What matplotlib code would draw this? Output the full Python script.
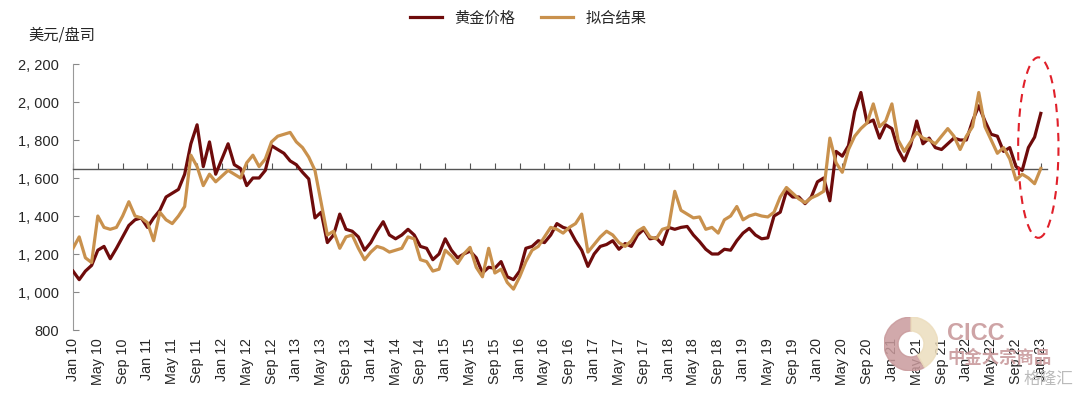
import numpy as np
import matplotlib
matplotlib.use('Agg')
import matplotlib.pyplot as plt
from matplotlib.patches import Ellipse, Wedge

plt.rcParams['font.family'] = ['Liberation Sans', 'Noto Sans CJK SC', 'DejaVu Sans']
CJK = ['Noto Sans CJK SC', 'DejaVu Sans']

# monthly readings, Jan 2010 .. Jan 2023 (USD/oz)
gold = [
    1110, 1065, 1110, 1140, 1220, 1240, 1175, 1230, 1290, 1350, 1380, 1390,   # 2010
    1340, 1390, 1430, 1500, 1520, 1540, 1620, 1780, 1880, 1660, 1790, 1620,   # 2011
    1700, 1780, 1670, 1650, 1560, 1600, 1600, 1640, 1770, 1750, 1730, 1690,   # 2012
    1670, 1630, 1595, 1390, 1420, 1260, 1300, 1410, 1330, 1320, 1290, 1220,   # 2013
    1260, 1320, 1370, 1300, 1280, 1300, 1330, 1300, 1240, 1230, 1170, 1200,   # 2014
    1280, 1220, 1180, 1200, 1215, 1180, 1100, 1130, 1125, 1160, 1080, 1065,   # 2015
    1110, 1230, 1240, 1270, 1260, 1300, 1360, 1340, 1330, 1270, 1220, 1135,   # 2016
    1200, 1240, 1250, 1270, 1225, 1255, 1240, 1300, 1330, 1280, 1285, 1250,   # 2017
    1340, 1330, 1340, 1345, 1300, 1265, 1225, 1200, 1200, 1225, 1220, 1270,   # 2018
    1310, 1335, 1300, 1280, 1285, 1400, 1420, 1530, 1500, 1500, 1465, 1500,   # 2019
    1580, 1600, 1480, 1740, 1715, 1770, 1950, 2050, 1890, 1905, 1810, 1880,   # 2020
    1860, 1750, 1690, 1770, 1900, 1780, 1810, 1760, 1750, 1780, 1810, 1800,   # 2021
    1800, 1900, 1980, 1900, 1830, 1820, 1740, 1760, 1660, 1640, 1760, 1815,   # 2022
    1940,                                                                     # 2023
]
fit = [
    1230, 1290, 1180, 1155, 1400, 1340, 1330, 1340, 1400, 1475, 1400, 1390,   # 2010
    1365, 1270, 1420, 1380, 1360, 1400, 1450, 1720, 1660, 1560, 1620, 1580,   # 2011
    1610, 1640, 1620, 1600, 1680, 1720, 1660, 1700, 1790, 1820, 1830, 1840,   # 2012
    1790, 1760, 1710, 1640, 1470, 1300, 1320, 1230, 1290, 1300, 1230, 1170,   # 2013
    1210, 1240, 1230, 1210, 1220, 1230, 1290, 1280, 1170, 1160, 1110, 1120,   # 2014
    1220, 1190, 1150, 1200, 1235, 1130, 1080, 1230, 1100, 1120, 1050, 1015,   # 2015
    1080, 1160, 1220, 1240, 1290, 1340, 1330, 1310, 1340, 1360, 1410, 1210,   # 2016
    1250, 1290, 1320, 1300, 1260, 1240, 1270, 1320, 1340, 1290, 1280, 1330,   # 2017
    1340, 1530, 1430, 1410, 1390, 1395, 1330, 1340, 1310, 1380, 1400, 1450,   # 2018
    1380, 1400, 1410, 1400, 1395, 1420, 1500, 1550, 1520, 1490, 1470, 1495,   # 2019
    1510, 1530, 1810, 1680, 1630, 1750, 1820, 1860, 1890, 1990, 1870, 1900,   # 2020
    1990, 1800, 1740, 1790, 1840, 1810, 1800, 1780, 1820, 1860, 1820, 1750,   # 2021
    1820, 1870, 2050, 1870, 1800, 1730, 1760, 1700, 1590, 1620, 1600, 1570,   # 2022
    1650,                                                                     # 2023
]
month_names = ['Jan', 'May', 'Sep']
years = list(range(10, 24))
yticks = [800, 1000, 1200, 1400, 1600, 1800, 2000, 2200]
axis_cross = 1650

x = np.arange(len(gold))
tick_pos = [i for i in range(0, len(gold), 4)]
tick_lab = [f"{month_names[(i % 12) // 4]} {years[i // 12]}" for i in tick_pos]

fig = plt.figure(figsize=(10.8, 3.96), dpi=100)
ax = fig.add_axes([73 / 1080, 1 - 330 / 396, 974 / 1080, 266 / 396])

ax.plot(x, gold, color='#6E0B0B', lw=2.3, label='黄金价格', zorder=3)
ax.plot(x, fit, color='#C9914D', lw=2.3, label='拟合结果', zorder=4)

ax.set_xlim(0, 157)
ax.set_ylim(800, 2200)
ax.set_yticks(yticks)
ax.set_yticklabels([f"{v:,}".replace(',', ', ') for v in yticks], fontsize=10.5, color='#262626')
ax.tick_params(axis='y', direction='in', length=4, color='#888888', pad=10)

for s in ('top', 'right'):
    ax.spines[s].set_visible(False)
ax.spines['left'].set_color('#999999')
ax.spines['bottom'].set_position(('data', axis_cross))
ax.spines['bottom'].set_color('#555555')
ax.spines['bottom'].set_linewidth(1.0)
ax.set_xticks(tick_pos)
ax.tick_params(axis='x', direction='in', length=4, color='#555555', labelbottom=False)

sec = ax.secondary_xaxis('bottom')
sec.set_xticks(tick_pos)
sec.set_xticklabels(tick_lab, rotation=90, fontsize=10.3, color='#262626')
sec.tick_params(length=0, pad=6)
sec.spines['bottom'].set_visible(False)

# highlight of the latest divergence
ell = Ellipse((155.6, 1760), 6.5, 950, fill=False, edgecolor='#E0202A',
              lw=1.5, ls=(0, (4, 3)), clip_on=False, zorder=5)
ax.add_patch(ell)

fig.text(28 / 1080, 1 - 35 / 396, '美元/盘司', family=CJK, fontsize=11,
         color='#262626', va='center', ha='left')

leg = ax.legend(loc='center', bbox_to_anchor=(528 / 1080, 1 - 18 / 396),
                bbox_transform=fig.transFigure, ncol=2, frameon=False,
                prop={'family': CJK, 'size': 11}, handlelength=2.1,
                handletextpad=0.8, columnspacing=1.7)
for t in leg.get_texts():
    t.set_color('#262626')

# watermark
wax = fig.add_axes([884 / 1080, 1 - 371 / 396, 54 / 1080, 54 / 396])
wax.set_xlim(-1, 1)
wax.set_ylim(-1, 1)
wax.set_aspect('equal')
wax.axis('off')
wax.add_patch(Wedge((0, 0), 1, 90, 300, width=0.52, color='#C99A9C', alpha=0.85))
wax.add_patch(Wedge((0, 0), 1, -60, 90, width=0.52, color='#ECDDBD', alpha=0.85))
fig.text(947 / 1080, 1 - 333 / 396, 'CICC', fontsize=17, fontweight='bold',
         color='#C99A9C', alpha=0.9, va='center', ha='left')
fig.text(947 / 1080, 1 - 358 / 396, '中金大宗商品', family=CJK, fontsize=12.5,
         fontweight='bold', color='#C99A9C', alpha=0.9, va='center', ha='left')
fig.text(1073 / 1080, 1 - 379 / 396, '格隆汇', family=CJK, fontsize=12,
         color='#BBBBBB', va='center', ha='right')

fig.savefig('out.png', dpi=100)
